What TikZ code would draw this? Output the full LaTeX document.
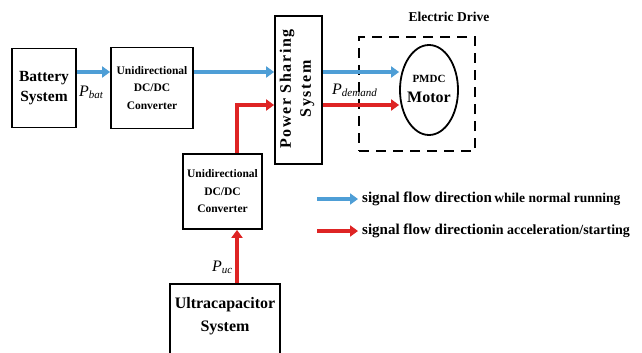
\documentclass[tikz,border=0pt]{standalone}
\usepackage{fontspec}
\setmainfont{Liberation Serif}
\usetikzlibrary{arrows.meta,shapes.geometric}
\definecolor{flowblue}{RGB}{78,158,214}
\definecolor{flowred}{RGB}{222,36,36}
\newcommand{\fsz}[2]{\fontsize{#1}{#2}\selectfont}
\newcommand{\Psub}[1]{{\fsz{16}{18}\itshape P}\raisebox{-0.4ex}{\fsz{11}{13}\itshape #1}}
\begin{document}
\begin{tikzpicture}[x=1pt,y=-1pt,
  blk/.style={draw=black, line width=1.8pt, fill=white, align=center, font=\bfseries, inner sep=0pt},
  bluearrow/.style={draw=flowblue, line width=4pt, -{Triangle[length=8pt,width=11pt]}},
  redarrow/.style={draw=flowred, line width=4pt, -{Triangle[length=8pt,width=11pt]}},
  lbl/.style={inner sep=0pt, font=\bfseries}]
\useasboundingbox[fill=white] (0,0) rectangle (642,353);

% blocks
\node[blk, minimum width=64pt, minimum height=79pt, font=\bfseries\fsz{15.5}{20}] (batt) at (44,88) {Battery\\System};
\node[blk, minimum width=82pt, minimum height=81pt, font=\bfseries\fsz{11.5}{17.5}] (conv1) at (152,88) {Unidirectional\\DC/DC\\Converter};
\node[blk, minimum width=47pt, minimum height=148pt] (pss) at (298.5,90) {};
\node[lbl, rotate=90, align=center, font=\bfseries\fsz{16}{20}\addfontfeature{LetterSpace=10}] (psslabel) at (297,89) {Power Sharing\\System};
\node[draw=black, line width=2pt, dash pattern=on 10pt off 7pt, minimum width=116pt, minimum height=114pt, inner sep=0pt] (drive) at (417,94) {};
\node[lbl, font=\bfseries\fsz{13.5}{16}] (drivetitle) at (449,17) {Electric Drive};
\node[ellipse, draw=black, line width=1.8pt, minimum width=58pt, minimum height=90pt, inner sep=0pt] (motor) at (429,90) {};
\node[lbl, font=\bfseries\fsz{11}{13}] (pmdc) at (429,79) {PMDC};
\node[lbl, font=\bfseries\fsz{16}{18}] (motorword) at (429,97) {Motor};
\node[blk, minimum width=79pt, minimum height=75pt, font=\bfseries\fsz{11.5}{17.5}] (conv2) at (222.5,191.5) {Unidirectional\\DC/DC\\Converter};
\node[blk, minimum width=110pt, minimum height=90pt, anchor=north] (ucap) at (225,283) {};
\node[lbl, align=center, font=\bfseries\fsz{16}{23}] (ucaplabel) at (225,316) {Ultracapacitor\\System};

% coordinates
\coordinate (bl) at (0,72);
\coordinate (bend) at (237,105);

% connectors
\draw[bluearrow] (batt.east |- bl) -- (conv1.west |- bl);
\draw[bluearrow] (conv1.east |- bl) -- (pss.west |- bl);
\draw[bluearrow] (pss.east |- bl) -- (motor.west |- bl);
\draw[redarrow] (conv2.north -| bend) -- (bend) -- (pss.west |- bend);
\draw[redarrow] (ucap.north -| bend) -- (conv2.south -| bend);
\draw[redarrow] (pss.east |- bend) -- (motor.west |- bend);

% labels
\node[lbl, anchor=west, font=\mdseries] (pbat) at (79,92) {\Psub{bat}};
\node[lbl, anchor=west, font=\mdseries] (pdemand) at (332,90) {\Psub{demand}};
\node[lbl, anchor=west, font=\mdseries] (puc) at (212,267) {\Psub{uc}};

% legend
\coordinate (lb1) at (317,199);
\coordinate (lb2) at (358,199);
\coordinate (lr1) at (317,231);
\coordinate (lr2) at (358,231);
\draw[bluearrow] (lb1) -- (lb2);
\draw[redarrow] (lr1) -- (lr2);
\node[lbl, anchor=west] (leg1) at (362,199) {{\fsz{15}{18}signal flow direction} {\fsz{13.5}{16}while normal running}};
\node[lbl, anchor=west] (leg2) at (362,231) {{\fsz{15}{18}signal flow direction}{\fsz{14}{16}in acceleration/starting}};
\end{tikzpicture}
\end{document}
